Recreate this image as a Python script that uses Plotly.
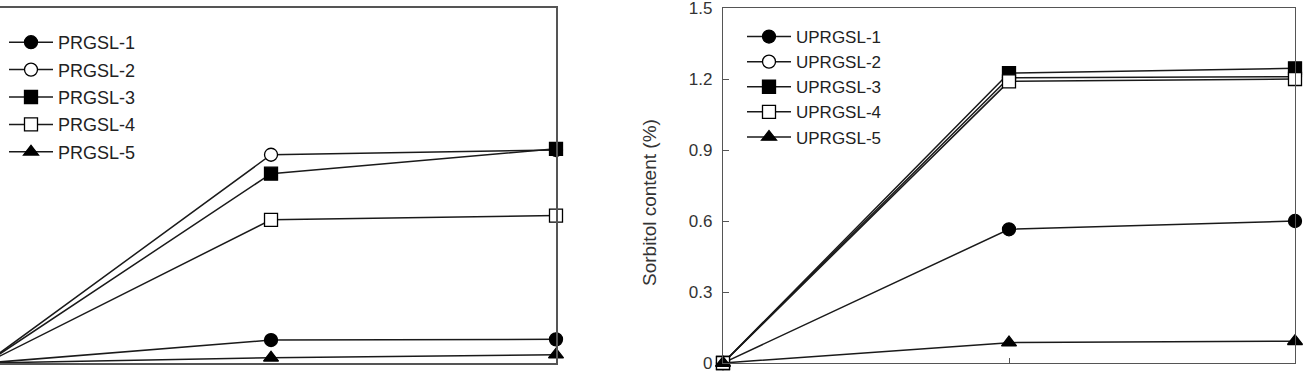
import plotly.graph_objects as go

W, H = 1306, 387

days = [0, 5, 10]
x_ticks = [0, 5, 10]
y_ticks = [0, 0.3, 0.6, 0.9, 1.2, 1.5]
y_tick_text = ["0", "0.3", "0.6", "0.9", "1.2", "1.5"]

prgsl_names = ["PRGSL-1", "PRGSL-2", "PRGSL-3", "PRGSL-4", "PRGSL-5"]
prgsl_1 = [0, 0.097, 0.10]
prgsl_2 = [0, 0.88, 0.90]
prgsl_3 = [0, 0.80, 0.905]
prgsl_4 = [0, 0.605, 0.623]
prgsl_5 = [0, 0.022, 0.035]

uprgsl_names = ["UPRGSL-1", "UPRGSL-2", "UPRGSL-3", "UPRGSL-4", "UPRGSL-5"]
uprgsl_1 = [0, 0.565, 0.60]
uprgsl_2 = [0, 1.205, 1.21]
uprgsl_3 = [0, 1.225, 1.245]
uprgsl_4 = [0, 1.19, 1.20]
uprgsl_5 = [0, 0.086, 0.092]

y_title = "Sorbitol content (%)"

symbols = ["circle", "circle", "square", "square", "triangle-up"]
fills = ["black", "white", "black", "white", "black"]

FONT = "Arial, 'Liberation Sans', sans-serif"

fig = go.Figure()

def px_x(p):
    return p / W

def px_y(p):
    return (H - p) / H

left_series = [prgsl_1, prgsl_2, prgsl_3, prgsl_4, prgsl_5]
right_series = [uprgsl_1, uprgsl_2, uprgsl_3, uprgsl_4, uprgsl_5]

for i, (name, vals) in enumerate(zip(prgsl_names, left_series)):
    fig.add_trace(go.Scatter(
        x=days, y=vals, name=name, mode="lines+markers",
        xaxis="x", yaxis="y", legend="legend", legendgroup="L%d" % i,
        line=dict(color="#1a1a1a", width=1.5),
        marker=dict(symbol=symbols[i], size=13, color=fills[i],
                    line=dict(color="black", width=1.3)),
        cliponaxis=False,
    ))

for i, (name, vals) in enumerate(zip(uprgsl_names, right_series)):
    fig.add_trace(go.Scatter(
        x=days, y=vals, name=name, mode="lines+markers",
        xaxis="x2", yaxis="y2", legend="legend2", legendgroup="R%d" % i,
        line=dict(color="#1a1a1a", width=1.5),
        marker=dict(symbol=symbols[i], size=13, color=fills[i],
                    line=dict(color="black", width=1.3)),
        cliponaxis=False,
    ))

ydom = [px_y(363), px_y(8)]
axis_color = "#555555"

fig.update_layout(
    width=W, height=H,
    margin=dict(l=0, r=0, t=0, b=0, autoexpand=False),
    paper_bgcolor="white", plot_bgcolor="white",
    font=dict(family=FONT, color="#333333"),
    xaxis=dict(domain=[0, px_x(556)], range=[0.245, 10], tickvals=x_ticks,
               ticktext=[str(v) for v in x_ticks], automargin=False,
               showline=True, mirror=True, linecolor=axis_color, linewidth=1.5,
               ticks="", showgrid=False, zeroline=False, ticklabeloverflow="allow",
               tickfont=dict(size=19, color="#333"), ticklabelstandoff=18),
    yaxis=dict(domain=ydom, range=[0, 1.5], side="right", anchor="x", automargin=False,
               showline=True, linecolor=axis_color, linewidth=1.5,
               showticklabels=False, ticks="", showgrid=False, zeroline=False),
    xaxis2=dict(domain=[px_x(723), px_x(1295)], range=[0, 10], anchor="y2",
                tickvals=x_ticks, ticktext=[str(v) for v in x_ticks], automargin=False,
                showline=True, mirror=True, linecolor=axis_color, linewidth=1.3,
                ticks="inside", ticklen=5, tickcolor=axis_color,
                showgrid=False, zeroline=False, ticklabeloverflow="allow",
                tickfont=dict(size=19, color="#333"), ticklabelstandoff=18),
    yaxis2=dict(domain=ydom, range=[0, 1.5], anchor="x2", automargin=False,
                tickvals=y_ticks, ticktext=y_tick_text,
                showline=True, mirror=True, linecolor=axis_color, linewidth=1.3,
                ticks="inside", ticklen=6, tickcolor=axis_color,
                showgrid=False, zeroline=False, ticklabeloverflow="allow",
                tickfont=dict(size=17, color="#333"), ticklabelstandoff=6),
    legend=dict(x=px_x(4), y=px_y(24), xanchor="left", yanchor="top",
                bgcolor="rgba(0,0,0,0)", borderwidth=0,
                font=dict(size=18, color="#222"), tracegroupgap=1,
                itemwidth=44),
    legend2=dict(x=px_x(742), y=px_y(19), xanchor="left", yanchor="top",
                 bgcolor="rgba(0,0,0,0)", borderwidth=0,
                 font=dict(size=17, color="#222"), tracegroupgap=0,
                 itemwidth=44),
    annotations=[dict(text=y_title, x=px_x(649), y=px_y(203), xref="paper", yref="paper",
                      textangle=-90, showarrow=False, xanchor="center", yanchor="middle",
                      font=dict(size=19, color="#333"))],
    showlegend=True,
)

fig.write_html("out.html")
